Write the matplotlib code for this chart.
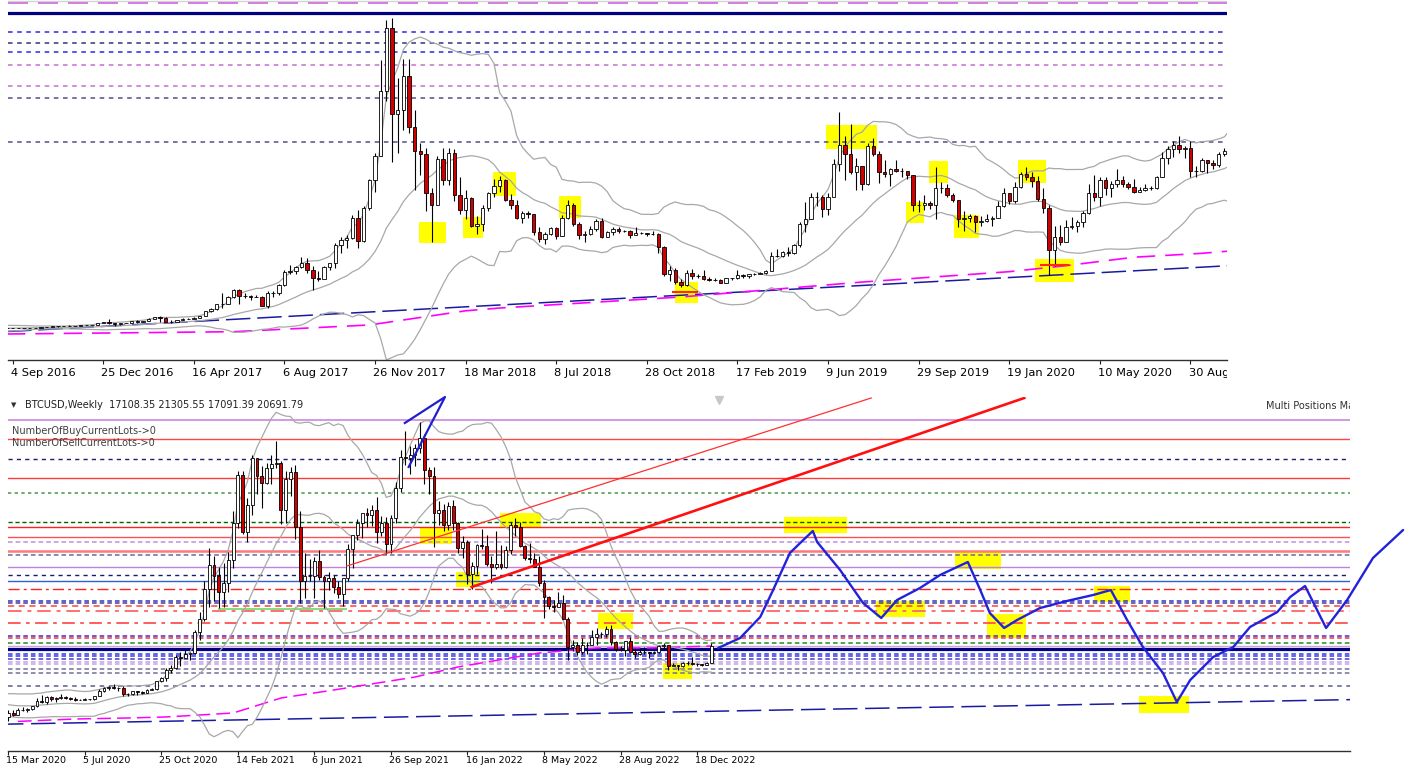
import numpy as np
import pandas as pd
import matplotlib
matplotlib.use("Agg")
import matplotlib.pyplot as plt
from matplotlib.patches import Rectangle
from matplotlib.transforms import Bbox, TransformedBbox

W, H = 1410, 769

# ---------------- weekly BTCUSD candles (week index 0 = 4 Sep 2016) ----------------
first_index = -20
first_open = 425
closes = [
    # Apr-Aug 2016 (warm-up)
    460, 455, 460, 455, 445, 530, 575, 665, 760, 665, 680, 650, 665, 655, 625, 590, 570, 580, 575, 610,
    # Sep-Dec 2016
    608, 608, 600, 612, 615, 640, 655, 700, 705, 705, 740, 735, 765, 775, 790, 900, 965,
    # 2017
    900, 820, 920, 915, 1020, 995, 1050, 1170, 1270, 1230, 960, 970, 1080, 1180, 1180, 1240, 1350, 1640,
    1780, 2050, 2050, 2520, 2960, 2550, 2600, 2500, 2520, 1950, 2750, 2750, 3250, 4050, 4100, 4350, 4600,
    4200, 3700, 3600, 4350, 4600, 5700, 6000, 6150, 7400, 5950, 8000, 9700, 11200, 15200, 19100, 13800, 14000,
    # 2018
    16100, 13000, 11500, 11300, 8900, 8200, 11000, 9700, 11400, 8800, 7900, 8600, 6900, 7000, 8000, 8900,
    9350, 9700, 8500, 8200, 7400, 7700, 7600, 6500, 6100, 6400, 6750, 6250, 7400, 8200, 7000, 6300, 6400,
    6700, 7200, 6200, 6500, 6700, 6600, 6600, 6300, 6450, 6450, 6380, 6400, 5600, 3900, 4200, 3450, 3250,
    4000, 3800, 3800,
    # 2019
    3600, 3550, 3550, 3400, 3650, 3650, 3850, 3800, 3900, 3950, 4000, 4100, 5050, 5050, 5300, 5250, 5700,
    7000, 7300, 8700, 8650, 7950, 8700, 10700, 11900, 11300, 10200, 10600, 9500, 11800, 11300, 10200, 10100,
    10400, 10300, 10300, 10000, 8200, 8150, 8300, 8200, 9200, 9200, 8800, 8500, 7300, 7400, 7500, 7100,
    7200, 7300, 7400,
    # 2020
    8100, 8900, 8400, 9300, 10100, 9900, 9650, 8550, 8000, 5400, 6200, 5900, 6800, 6900, 7100, 7700, 8900,
    8700, 9700, 9200, 9450, 9700, 9450, 9300, 9000, 9100, 9250, 9200, 9900, 11100, 11600, 11850, 11650,
    11700, 10250, 10300, 10950, 10750, 10650, 11300, 11500, 13050, 13750, 15500, 16000, 18400, 18200,
    19000, 19150, 23800, 26500, 33000,
    # 2021
    38200, 35800, 32300, 34300, 39200, 47200, 57500, 45200, 51000, 61200, 57400, 55800, 59000, 60000,
    60100, 50100, 56600, 58200, 46400, 34700, 35700, 35800, 39000, 35600, 34700, 35300, 33500, 31800,
    35400, 41500, 44600, 47100, 49300, 48900, 49900, 45200, 47300, 42700, 48200, 54700, 61500, 61300,
    61800, 63300, 65500, 58600, 57300, 49400, 50100, 46700, 50800, 47300,
    # 2022
    41800, 43100, 36300, 37900, 42400, 42200, 38300, 37700, 38400, 37800, 41300, 46800, 46400, 42200,
    39700, 39500, 37700, 34300, 31300, 29400, 29000, 29900, 26600, 20500, 21000, 19300, 20800, 20800,
    22600, 23300, 23200, 24400, 21500, 20000, 19800, 21800, 19400, 18900, 19300, 19400, 19200, 19500,
    20600, 20900, 16300, 16600, 16400, 17100, 17100, 16800, 16850, 16550,
    # 2023
    17108, 20692,
]
highs = [
    465, 470, 465, 465, 460, 535, 585, 680, 780, 785, 700, 700, 680, 680, 665, 630, 600, 590, 585, 615,
    625, 612, 610, 615, 620, 645, 660, 715, 740, 725, 755, 745, 770, 780, 795, 935, 980,
    1150, 920, 930, 930, 1030, 1070, 1060, 1190, 1290, 1330, 1250, 1070, 1100, 1210, 1220, 1250, 1360, 1650,
    1830, 2100, 2760, 2600, 2980, 2980, 2780, 2640, 2650, 2550, 2900, 2850, 3300, 4200, 4480, 4450, 4980,
    4900, 4400, 4100, 4400, 4610, 5850, 6200, 6300, 7550, 7890, 8100, 9750, 11400, 17100, 19600, 19700, 16000,
    17200, 17200, 14000, 12000, 11700, 9200, 11200, 11700, 11700, 11600, 9900, 9100, 8700, 7500, 8200, 9000,
    9750, 9950, 9800, 8850, 8500, 7800, 7780, 7600, 6800, 6500, 6800, 6800, 7550, 8500, 8300, 7150, 6600,
    6900, 7300, 7400, 6600, 6800, 6800, 6650, 6650, 6800, 6500, 6450, 6550, 6450, 5650, 4400, 4300, 3600,
    4200, 4250, 3950,
    4150, 3750, 3650, 3600, 3700, 3700, 4200, 3900, 3950, 4000, 4080, 4150, 5300, 5450, 5350, 5600, 5800,
    7100, 8350, 8900, 9000, 8800, 8900, 11000, 13880, 12400, 13150, 11100, 10600, 12000, 12300, 11500, 10950,
    10450, 10950, 10450, 10300, 10050, 8500, 8800, 8450, 10500, 9600, 9500, 8900, 8500, 7800, 7600, 7550,
    7500, 7600, 7500,
    8450, 9200, 8900, 9600, 10200, 10500, 10200, 9950, 9200, 8150, 6900, 6950, 7250, 7450, 7250, 7800, 9450,
    10050, 9900, 9900, 9650, 10400, 9950, 9600, 9800, 9300, 9450, 9350, 9950, 11450, 11800, 12100, 12450,
    11800, 12100, 10600, 11100, 10950, 10950, 11450, 11700, 13200, 14000, 15900, 16500, 18800, 19400,
    19900, 19450, 24200, 28000, 34800,
    41900, 40000, 37800, 38500, 40900, 49700, 58300, 58300, 52600, 61800, 61200, 59400, 60100, 61800,
    64900, 60500, 58400, 59200, 59600, 49800, 40800, 39500, 39800, 41300, 36000, 36600, 35900, 34600,
    35400, 42600, 44700, 48100, 49400, 50500, 51000, 52900, 48800, 48400, 49000, 56100, 62900, 67000,
    63700, 64300, 69000, 66400, 59300, 59200, 51900, 51400, 51800, 52100,
    47500, 44400, 43500, 38900, 42600, 45800, 44700, 40000, 45400, 42500, 42300, 47500, 48200, 47400,
    42400, 42900, 40800, 40000, 34900, 31400, 30500, 32300, 31600, 26900, 21900, 21500, 22400, 21500,
    24200, 24600, 23700, 24900, 25200, 21800, 20600, 21800, 22700, 20000, 20300, 20400, 19500, 19700,
    20900, 21400, 21000, 17100, 16700, 17300, 17400, 18400, 17000, 16900,
    17200, 21306,
]
lows = [
    425, 440, 440, 448, 435, 440, 515, 570, 655, 550, 620, 610, 630, 640, 620, 480, 565, 565, 570, 565,
    600, 602, 595, 598, 606, 612, 635, 650, 690, 695, 700, 725, 730, 755, 770, 790, 890,
    850, 750, 810, 880, 910, 930, 990, 1045, 1150, 1000, 940, 890, 950, 1080, 1150, 1160, 1230, 1330,
    1560, 1730, 1850, 2080, 2460, 2100, 2450, 2330, 2480, 1930, 1830, 2500, 2650, 3200, 3900, 3950, 4300,
    4000, 2970, 3500, 3650, 4200, 4300, 5200, 5500, 6100, 5500, 5900, 7900, 9000, 11200, 14600, 10800, 11400,
    12800, 12600, 9100, 10000, 7800, 5900, 8200, 9400, 9400, 8400, 7600, 7300, 6800, 6400, 6600, 7800,
    8700, 9000, 8400, 7950, 7300, 7050, 7350, 6300, 5900, 5800, 6300, 6100, 6250, 7300, 6900, 6100, 5900,
    6300, 6600, 6150, 6200, 6300, 6450, 6500, 6150, 6350, 6400, 6250, 6350, 5250, 3800, 3500, 3300, 3150,
    3200, 3600, 3700,
    3550, 3500, 3500, 3350, 3370, 3580, 3630, 3700, 3700, 3850, 3950, 3950, 4100, 4950, 5000, 5050, 5150,
    5600, 6500, 7300, 8100, 7450, 7550, 8900, 10300, 9700, 10100, 9100, 9100, 9400, 11200, 9550, 9900,
    9350, 10200, 9900, 9800, 7800, 7750, 7900, 7950, 7300, 8900, 8700, 8350, 6800, 6600, 7100, 6500,
    6900, 7150, 6900,
    7350, 8050, 8250, 8300, 9200, 9700, 9300, 8450, 7700, 3850, 4450, 5700, 5900, 6700, 6500, 6800, 7600,
    8400, 8100, 8800, 8650, 9300, 9300, 9150, 8900, 8950, 9050, 9100, 9150, 9900, 10700, 11150, 11400,
    11100, 9900, 9900, 10200, 10150, 10400, 10500, 11200, 11300, 12900, 13200, 14850, 15800, 16300,
    18100, 17600, 19000, 22000, 26100,
    29000, 30400, 28800, 29200, 32300, 37400, 46200, 44900, 43000, 48900, 53500, 50400, 55600, 55500,
    59000, 47000, 47100, 53000, 43800, 30000, 31100, 34800, 31100, 34900, 28800, 32700, 32100, 31000,
    29300, 34800, 37500, 43500, 43900, 46300, 46500, 42800, 44300, 40600, 40800, 47100, 53800, 59800,
    57800, 59400, 62300, 55600, 53500, 42000, 46800, 45500, 45600, 45700,
    40700, 39600, 34000, 32900, 36300, 41700, 38000, 34300, 37200, 37300, 37600, 40500, 44500, 42100,
    39300, 38600, 37700, 33700, 26700, 28700, 28000, 29300, 26600, 17600, 19700, 18800, 18900, 18900,
    20800, 20800, 22400, 22700, 20800, 19600, 19600, 18500, 19400, 18100, 18800, 19000, 18200, 18900,
    19200, 20000, 15600, 16300, 15500, 16100, 16700, 16600, 16400, 16300,
    16500, 17091,
]

# ---------------- axis labels ----------------
top_tick_idx = [0, 16, 32, 48, 64, 80, 96, 112, 128, 144, 160, 176, 192, 208]
top_tick_labels = ["4 Sep 2016", "25 Dec 2016", "16 Apr 2017", "6 Aug 2017", "26 Nov 2017",
                   "18 Mar 2018", "8 Jul 2018", "28 Oct 2018", "17 Feb 2019", "9 Jun 2019",
                   "29 Sep 2019", "19 Jan 2020", "10 May 2020", "30 Aug 2020"]
bot_tick_idx = [184, 200, 216, 232, 248, 264, 280, 296, 312, 328]
bot_tick_labels = ["15 Mar 2020", "5 Jul 2020", "25 Oct 2020", "14 Feb 2021", "6 Jun 2021",
                   "26 Sep 2021", "16 Jan 2022", "8 May 2022", "28 Aug 2022", "18 Dec 2022"]

# ---------------- drawn objects (prices) ----------------
top_levels = [20746, 20605, 19989, 18818, 18177, 17586, 16804, 15528, 14789, 12059]
bot_levels = [69460, 65300, 60926, 56831, 53728, 47349, 46337, 44182, 43169, 41229, 40367, 37717,
              35993, 34635, 32911, 30454, 30066, 29247, 28170, 25713, 22782, 22351, 21339, 20757,
              20110, 18968, 18472, 17955, 17309, 16813, 15671, 14766, 12137]

ma_idx = [-1, 39, 63, 80, 86, 118, 150, 176, 186, 198, 210, 217, 231, 241, 252, 269, 278, 295, 307, 318, 331]
ma_val = [230, 372, 785, 1660, 1830, 2510, 3430, 4070, 4440, 4960, 5200, 5400, 6250, 9480, 11200,
          14000, 16170, 19180, 20260, 20260, 20690]

trend_idx = [-1, 465]
trend_val = [381, 9142]

thin_red_idx = [254.8, 364.4]
thin_red_val = [37932, 74136]
thick_red_idx = [280.9, 396.4]
thick_red_val = [33407, 74136]

tri_idx = [266.9, 275.3, 267.7]
tri_val = [68749, 74352, 59267]

green_seg_idx = [227.8, 254.8]
green_seg_val = 28730

top_red_segs = [(116.5, 121.0, 2818), (181.5, 186.5, 4481)]

proj_idx = [332.4, 337.0, 341.2, 343.9, 347.4, 350.2, 352.2, 353.1, 357.9, 362.7, 366.5, 369.8, 374.6,
            378.8, 384.6, 387.2, 389.2, 392.2, 394.9, 399.7, 405.3, 410.8, 414.5, 417.9, 421.2, 425.4,
            428.3, 431.1, 435.9, 440.1, 443.6, 449.3, 452.0, 455.1, 459.5, 463.9, 469.3, 475.6]
proj_val = [20261, 22416, 26942, 32760, 40734, 43535, 45475, 43104, 37070, 29959, 26726, 30605, 33191,
            35993, 38794, 32760, 27804, 24571, 26295, 28881, 30390, 31683, 32760, 26295, 20476, 14873,
            8624, 13365, 18321, 20476, 24787, 28019, 31252, 33622, 24571, 30605, 39656, 45690]

top_boxes = [(71.7, 76.5, 5837, 7131), (79.5, 83.0, 6145, 7439), (84.9, 88.8, 8733, 10211),
             (96.4, 100.3, 7377, 8733), (116.9, 121.1, 2140, 3434), (143.6, 152.7, 11628, 13107),
             (157.7, 160.9, 7069, 8363), (161.9, 165.1, 9533, 10889), (166.2, 170.6, 6145, 7562),
             (177.5, 182.4, 9533, 10950), (180.5, 187.4, 3434, 4851)]
bot_boxes = [(346.2, 359.4, 45044, 48492), (365.4, 375.6, 26942, 30390), (381.9, 391.5, 37286, 40949),
             (388.6, 396.8, 22416, 27588), (411.0, 418.5, 30174, 33622), (420.4, 430.9, 6254, 9917),
             (320.9, 327.0, 13581, 17029), (307.3, 314.6, 24356, 27804), (277.6, 282.6, 33406, 36639),
             (286.8, 295.4, 46121, 49355), (270.1, 276.8, 42673, 46337)]

title_text = "BTCUSD,Weekly  17108.35 21305.55 17091.39 20691.79"
info_lines = ["NumberOfBuyCurrentLots->0", "NumberOfSellCurrentLots->0"]
ea_text = "Multi Positions Manager"

# ---------------- styles ----------------
top_level_styles = [
    ("#d4d4d4", 1.0, None), ("#cc66dd", 1.2, (12, 6)), ("#000080", 2.3, None), ("#2a2ae6", 1.1, (3, 3)),
    ("#33337a", 1.1, (3, 3)), ("#2a2ae6", 1.1, (3, 3)), ("#c070d0", 1.1, (3, 3)), ("#c070d0", 1.1, (3, 3)),
    ("#50508a", 1.1, (3, 3)), ("#50508a", 1.1, (3, 3)),
]
bot_level_styles = [
    ("#cc88dd", 1.2, None), ("#ff4545", 1.0, None), ("#1a1a6e", 1.0, (3, 3)), ("#ff3a3a", 1.0, None),
    ("#55a055", 1.2, (2, 2)), ("#006400", 1.0, (3, 2)), ("#ff2020", 1.0, None), ("#ff5050", 1.0, None),
    ("#c090e0", 1.1, (3, 2)), ("#ff7878", 1.8, None), ("#6a6aa0", 1.1, (3, 2)), ("#c080e0", 1.0, None),
    ("#1a1a70", 1.0, (3, 3)), ("#3060d0", 1.0, None), ("#ff2020", 1.0, (8, 3, 2, 3)),
    ("#3030d0", 1.1, (3, 2)), ("#404090", 1.1, (3, 2)), ("#ff4040", 1.1, (4, 3)),
    ("#ff7070", 1.4, (7, 3, 2, 3)), ("#ff5050", 1.3, (7, 3, 2, 3)), ("#3030e0", 1.1, (3, 2)),
    ("#ff3030", 1.1, (3, 2)), ("#1f8f1f", 1.1, (3, 2)), ("#d0a0e0", 1.0, None), ("#000080", 2.3, None),
    ("#3a3ae0", 1.1, (3, 2)), ("#3a3ae0", 1.1, (3, 2)), ("#3a3ae0", 1.1, (3, 2)),
    ("#c8a0e0", 1.1, (3, 2)), ("#c8a0e0", 1.1, (3, 2)), ("#707098", 1.1, (3, 2)),
    ("#707098", 1.1, (3, 2)), ("#5a5a90", 1.1, (3, 3)),
]

# ---------------- derived arrays ----------------
idx = np.arange(first_index, first_index + len(closes))
c_arr = np.array(closes, dtype=float)
h_arr = np.array(highs, dtype=float)
l_arr = np.array(lows, dtype=float)
o_arr = np.r_[first_open, c_arr[:-1]]
s = pd.Series(c_arr)
bb_mid = s.rolling(20).mean().values
bb_sd = s.rolling(20).std(ddof=0).values
bb_up = bb_mid + 2 * bb_sd
bb_lo = bb_mid - 2 * bb_sd

fig = plt.figure(figsize=(W / 100, H / 100), dpi=100)
fig.patch.set_facecolor("white")


def px_axes(x0, y0, x1, y1):
    return fig.add_axes([x0 / W, 1 - y1 / H, (x1 - x0) / W, (y1 - y0) / H])


ax_top = px_axes(8, 0, 1227, 360)
ax_bot = px_axes(8, 397, 1350, 751)
ax_top.set_xlim(-0.83, 214.45)
ax_top.set_ylim(-1372, 20808)
ax_bot.set_xlim(183.94, 464.5)
ax_bot.set_ylim(-1936, 74352)


def candles(ax, i0, i1, width):
    m = (idx >= i0) & (idx <= i1)
    x, o, c, hh, ll = idx[m], o_arr[m], c_arr[m], h_arr[m], l_arr[m]
    ax.vlines(x, ll, hh, color="black", lw=0.8, zorder=3)
    up = c >= o
    ax.bar(x[up], c[up] - o[up], bottom=o[up], width=width, color="white",
           edgecolor="black", linewidth=0.6, zorder=4)
    ax.bar(x[~up], o[~up] - c[~up], bottom=c[~up], width=width, color="#d00000",
           edgecolor="black", linewidth=0.6, zorder=4)
    ax.plot(x, bb_up[m], color="#a8a8a8", lw=0.9, zorder=2.5)
    ax.plot(x, bb_mid[m], color="#a8a8a8", lw=0.9, zorder=2.5)
    ax.plot(x, bb_lo[m], color="#a8a8a8", lw=0.9, zorder=2.5)


def levels(ax, vals, styles):
    for v, (col, lw, dash) in zip(vals, styles):
        kw = dict(color=col, lw=lw, zorder=1.5)
        if dash is not None:
            kw["dashes"] = dash
        ax.axhline(v, **kw)


for ax in (ax_top, ax_bot):
    ax.set_facecolor("white")
    for sname in ("top", "left", "right"):
        ax.spines[sname].set_visible(False)
    ax.spines["bottom"].set_color("#303030")
    ax.spines["bottom"].set_linewidth(1.0)
    ax.set_yticks([])

# ---- top panel ----
for (a, b, p0, p1) in top_boxes:
    ax_top.add_patch(Rectangle((a, p0), b - a, p1 - p0, facecolor="#ffff00", edgecolor="none", zorder=0.5))
levels(ax_top, top_levels, top_level_styles)
ax_top.plot(trend_idx, trend_val, color="#1a1aa0", lw=1.1, dashes=(16, 4.5), zorder=2)
ax_top.plot(ma_idx, ma_val, color="#ff00ff", lw=1.2, dashes=(11, 6), zorder=2)
for (a, b, v) in top_red_segs:
    ax_top.hlines(v, a, b, color="#ff2a00", lw=1.5, zorder=3.5)
candles(ax_top, -1, 215, 0.6)

# ---- bottom panel ----
for (a, b, p0, p1) in bot_boxes:
    ax_bot.add_patch(Rectangle((a, p0), b - a, p1 - p0, facecolor="#ffff00", edgecolor="none", zorder=0.5))
levels(ax_bot, bot_levels, bot_level_styles)
ax_bot.hlines(green_seg_val, green_seg_idx[0], green_seg_idx[1], color="#80dd80", lw=1.4, zorder=1.6)
ax_bot.plot(trend_idx, trend_val, color="#1a1aa0", lw=1.1, dashes=(16, 5), zorder=2)
ma_b = [(i, v) for i, v in zip(ma_idx, ma_val) if i >= 180]
ax_bot.plot([q[0] for q in ma_b], [q[1] for q in ma_b], color="#ff00ff", lw=1.1, dashes=(9, 4), zorder=2)
candles(ax_bot, 184, 331, 0.6)
ax_bot.plot(thin_red_idx, thin_red_val, color="#ff3030", lw=0.9, zorder=5)
ax_bot.plot(thick_red_idx, thick_red_val, color="#ff1010", lw=1.9, zorder=5)
ax_bot.plot(tri_idx, tri_val, color="#1f1fd0", lw=1.6, zorder=5, clip_on=False)
ax_bot.plot(proj_idx, proj_val, color="#2222dd", lw=1.7, zorder=5, clip_on=False,
            solid_capstyle="round", solid_joinstyle="round")
ax_bot.plot([332.6], [73705], marker="v", ms=6, color="#c8c8c8", clip_on=False, zorder=5)
ax_bot.text(447.0, 72412, ea_text, fontsize=7, color="#303030", va="center", ha="left",
            clip_on=True, zorder=6)

# ---- ticks and labels ----
clipbox = TransformedBbox(Bbox([[0, 0], [1227 / W, 1]]), fig.transFigure)
for ax, ticks, labs, fs, dy in ((ax_top, top_tick_idx, top_tick_labels, 8.2, -9.4),
                                (ax_bot, bot_tick_idx, bot_tick_labels, 6.8, -6.6)):
    ax.set_xticks(ticks)
    ax.set_xticklabels([])
    ax.tick_params(axis="x", length=3, width=0.8, direction="out", color="#202020")
    for t, lab in zip(ticks, labs):
        txt = ax.annotate(lab, xy=(t, 0), xycoords=("data", "axes fraction"), xytext=(-1.4, dy),
                          textcoords="offset points", ha="left", va="center", fontsize=fs,
                          color="black", annotation_clip=False)
        if ax is ax_top:
            txt.set_clip_box(clipbox)
            txt.set_clip_on(True)


def ftext(x, y, s_, **kw):
    fig.text(x / W, 1 - y / H, s_, **kw)


ftext(11, 405, "\u25bc", fontsize=5, color="#303030", va="center")
ftext(25, 405, title_text, fontsize=7, color="#202020", va="center")
ftext(12, 431, info_lines[0], fontsize=7, color="#404040", va="center")
ftext(12, 443, info_lines[1], fontsize=7, color="#404040", va="center")

fig.savefig("out.png", dpi=100, facecolor="white")
